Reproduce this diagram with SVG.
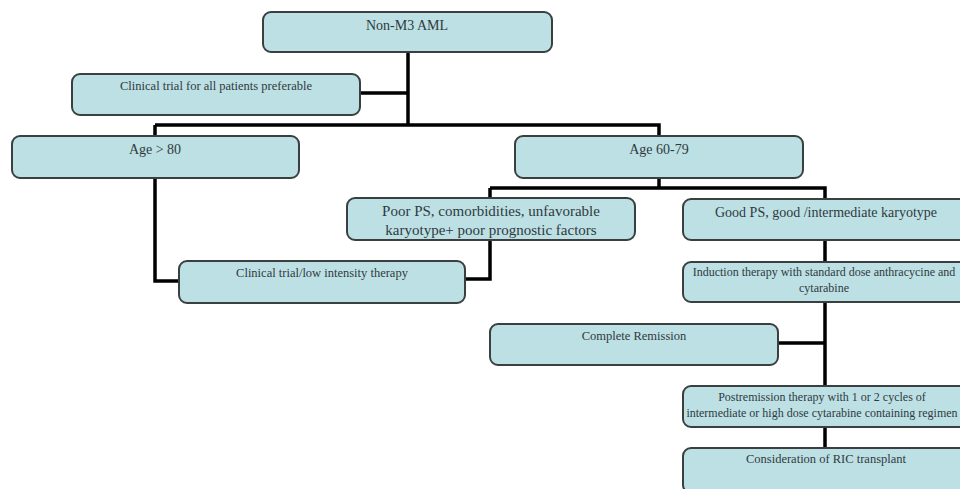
<svg xmlns="http://www.w3.org/2000/svg" width="960" height="489" viewBox="0 0 960 489">
<style>
.box{fill:#bde0e4;stroke:#3a3f40;stroke-width:2}
.t{font-family:"Liberation Serif","Times New Roman","DejaVu Serif",serif;fill:#2f3a3e;text-anchor:middle}
.s{font-size:12.5px}
.x{font-size:12px}
.m{font-size:14px}
.l{font-size:15px}
.c{fill:none;stroke:#000;stroke-width:3.5}
</style>
<rect width="960" height="489" fill="#fff"/>
<g id="connectors">
<path class="c" d="M408 52V125M360 93H408M155 125H659V137M155 125V281H179M659 178V188M490 188H825V199M490 188V199M490 240V279H465M825 240V262M825 302V386M778 343H825M825 427V448"/>
</g>
<g id="n1"><rect class="box" x="263" y="12" width="289" height="40" rx="8"/><text class="t m" x="407" y="30">Non-M3 AML</text></g>
<g id="n2"><rect class="box" x="72" y="74" width="288" height="41" rx="8"/><text class="t s" x="216" y="90">Clinical trial for all patients preferable</text></g>
<g id="n3"><rect class="box" x="12" y="136" width="287" height="42" rx="8"/><text class="t m" x="155" y="154">Age &gt; 80</text></g>
<g id="n4"><rect class="box" x="515" y="136" width="288" height="42" rx="8"/><text class="t m" x="659" y="154">Age 60-79</text></g>
<g id="n5"><rect class="box" x="347" y="198" width="288" height="42" rx="8"/><text class="t l" x="491" y="216">Poor PS, comorbidities,  unfavorable</text><text class="t l" x="491" y="235">karyotype+ poor prognostic factors</text></g>
<g id="n6"><rect class="box" x="683" y="199" width="290" height="41" rx="8"/><text class="t m" x="826" y="217">Good PS, good /intermediate  karyotype</text></g>
<g id="n7"><rect class="box" x="179" y="261" width="286" height="42" rx="8"/><text class="t s" x="322" y="277">Clinical trial/low intensity therapy</text></g>
<g id="n8"><rect class="box" x="683" y="262" width="290" height="40" rx="8"/><text class="t x" x="824" y="276">Induction therapy with standard dose anthracycine and</text><text class="t x" x="824" y="292">cytarabine</text></g>
<g id="n9"><rect class="box" x="490" y="324" width="288" height="41" rx="8"/><text class="t s" x="634" y="340">Complete Remission</text></g>
<g id="n10"><rect class="box" x="683" y="386" width="290" height="41" rx="8"/><text class="t x" x="822" y="401">Postremission therapy with 1 or 2 cycles of</text><text class="t x" x="822" y="417">intermediate or high dose cytarabine containing regimen</text></g>
<g id="n11"><rect class="box" x="683" y="448" width="290" height="45" rx="8"/><text class="t s" x="826" y="463">Consideration of RIC transplant</text></g>
</svg>
